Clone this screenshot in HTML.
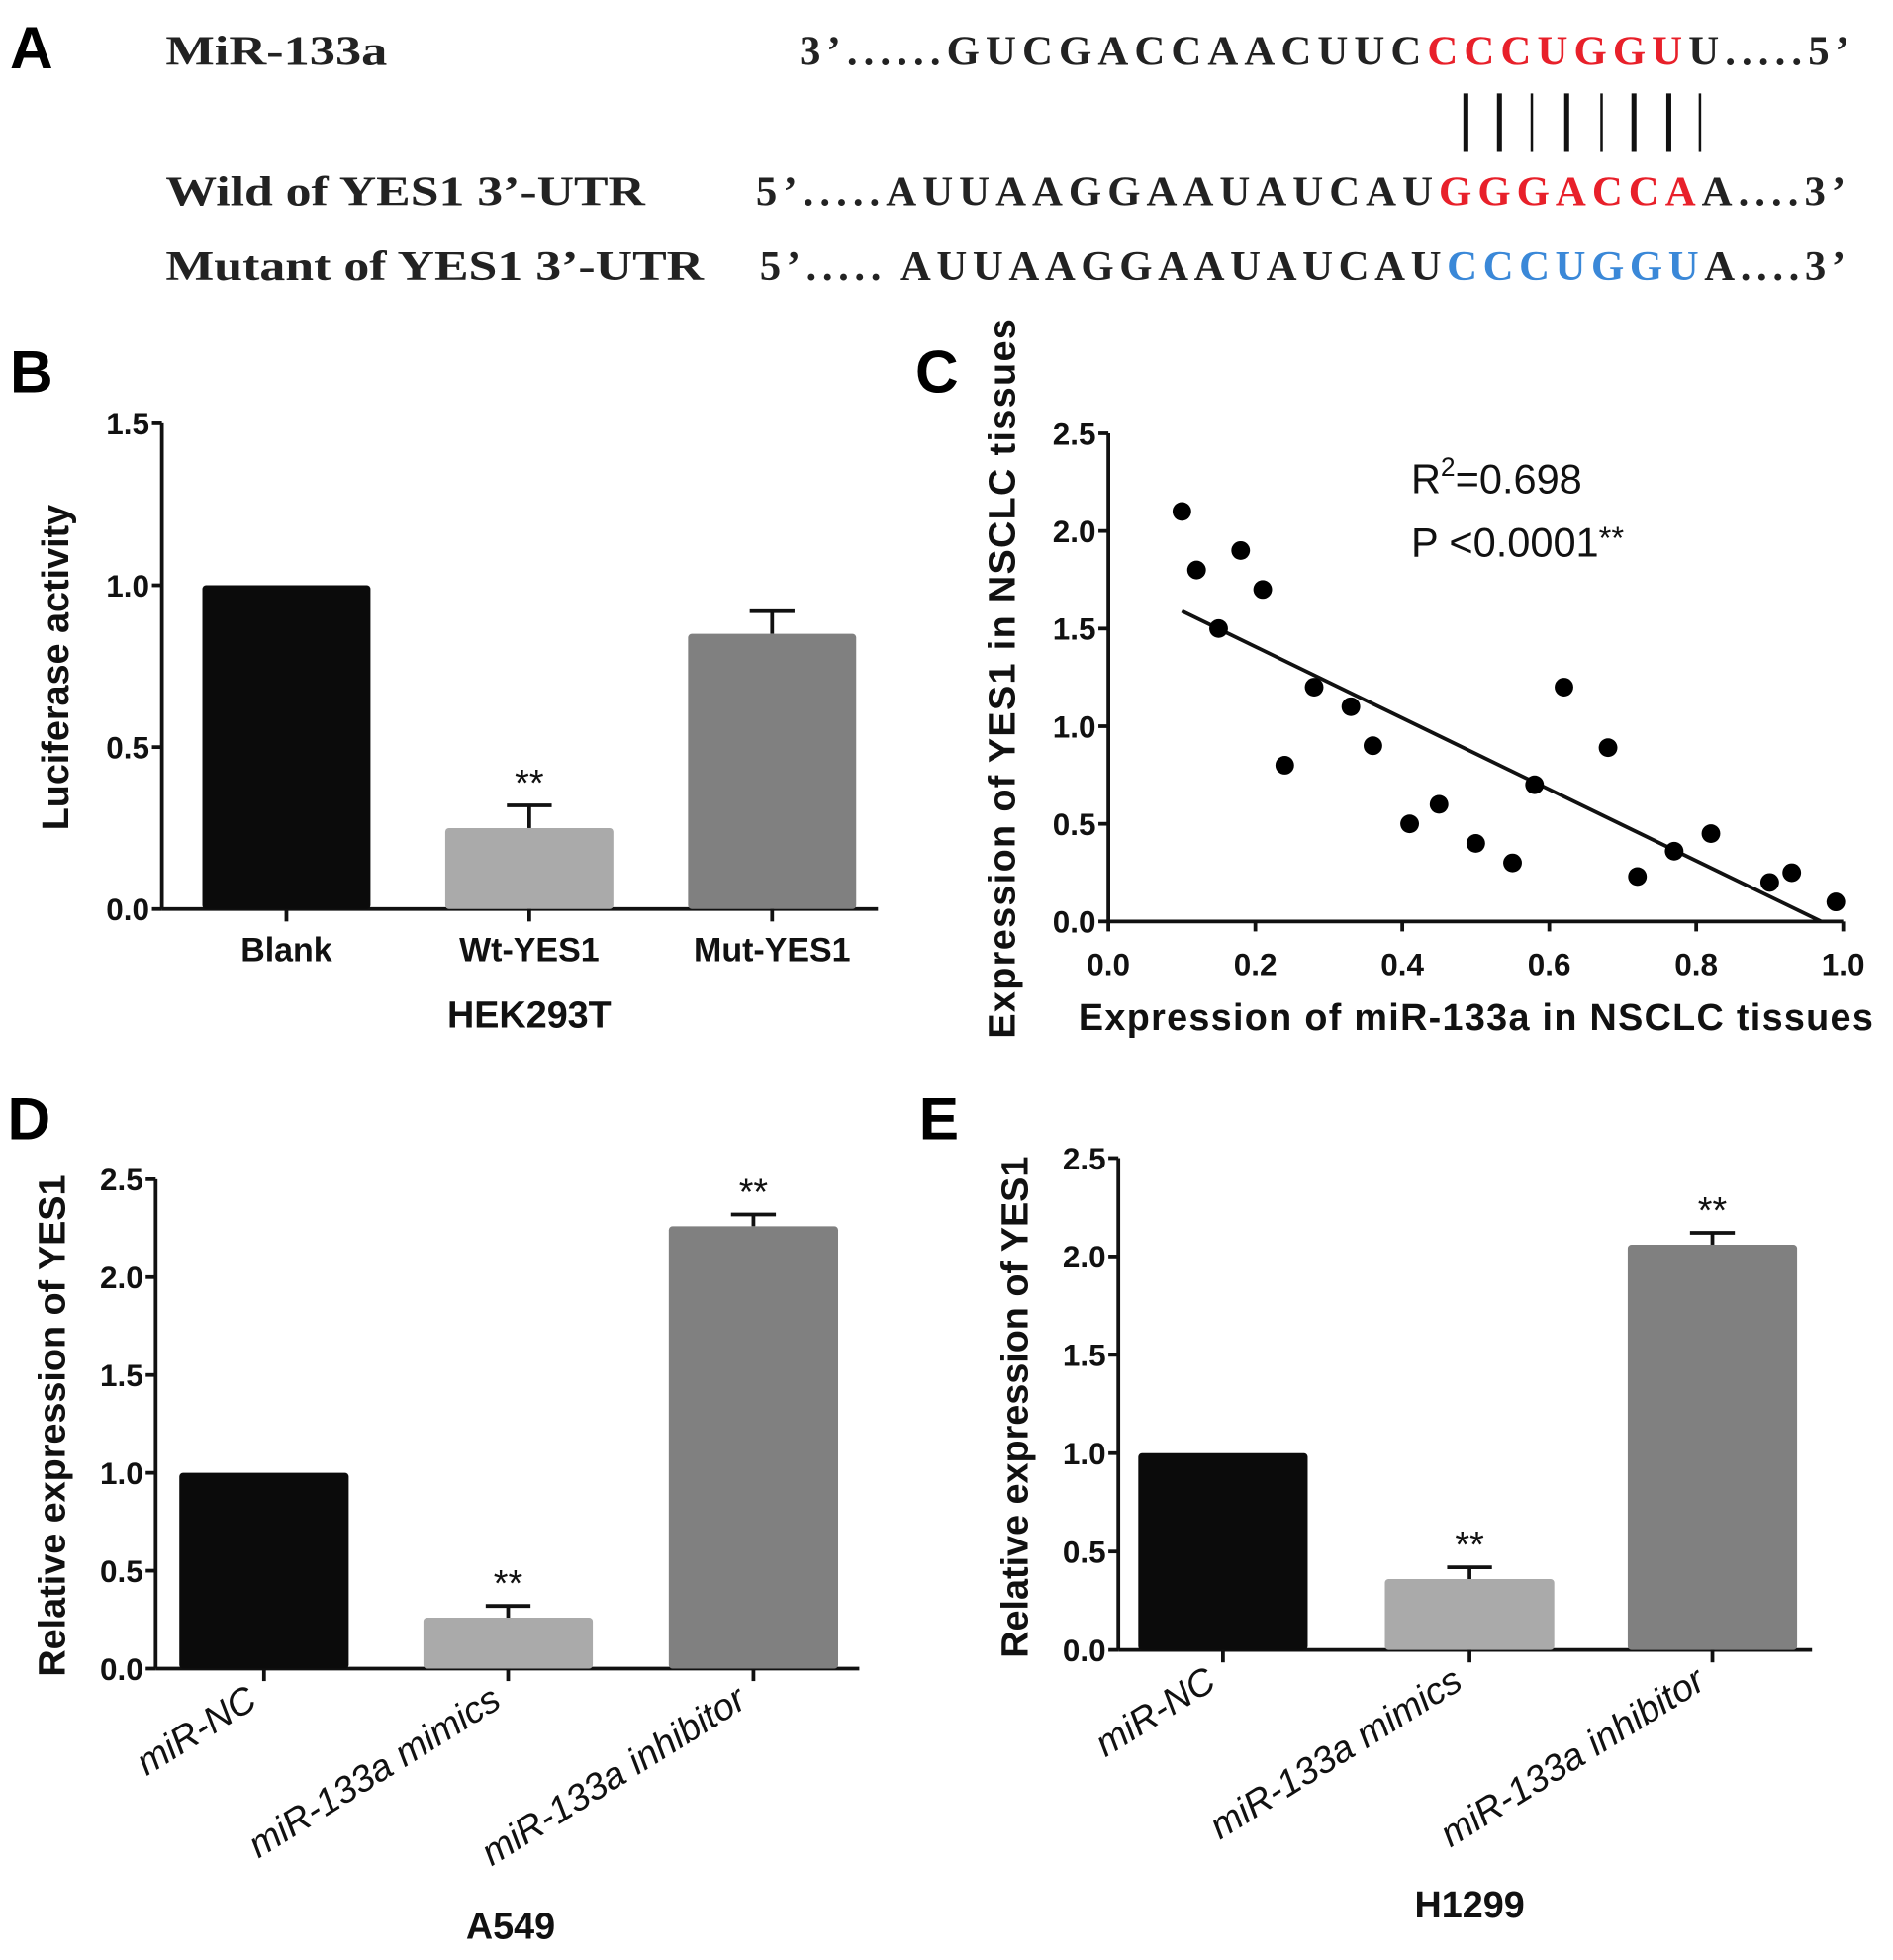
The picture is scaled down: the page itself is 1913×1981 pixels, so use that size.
<!DOCTYPE html>
<html><head><meta charset="utf-8"><style>
html,body{margin:0;padding:0;background:#fff;}
svg{display:block;}
text{font-family:"Liberation Sans",sans-serif;}
.ser{font-family:"Liberation Serif",serif;font-weight:bold;font-size:34px;fill:#222;}
.tick{font-size:25px;font-weight:bold;fill:#111;}
.ttl{font-size:30px;font-weight:bold;fill:#111;}
.pl{font-size:48px;font-weight:bold;fill:#000;}
</style></head><body>
<svg id="fig" width="1913" height="1981" viewBox="0 0 1520 1574" preserveAspectRatio="none">
<g>
<text class="pl" x="8" y="55">A</text>
<text class="ser" x="133" y="52" textLength="178" lengthAdjust="spacingAndGlyphs">MiR-133a</text>
<text class="ser" x="1485" y="52" text-anchor="end" textLength="843">3’......GUCGACCAACUUC<tspan fill="#e8202a">CCCUGGU</tspan>U.....5’</text>
<g stroke="#111" stroke-width="4">
<line x1="1177" y1="75" x2="1177" y2="122"/><line x1="1204" y1="75" x2="1204" y2="122"/><line x1="1230" y1="75" x2="1230" y2="122" stroke-width="2"/><line x1="1258" y1="75" x2="1258" y2="122"/><line x1="1286" y1="75" x2="1286" y2="122" stroke-width="2"/><line x1="1312" y1="75" x2="1312" y2="122"/><line x1="1340" y1="75" x2="1340" y2="122"/><line x1="1365" y1="75" x2="1365" y2="122" stroke-width="2"/>
</g>
<text class="ser" x="133" y="165" textLength="385" lengthAdjust="spacingAndGlyphs">Wild of YES1 3’-UTR</text>
<text class="ser" x="1482" y="165" text-anchor="end" textLength="875">5’.....AUUAAGGAAUAUCAU<tspan fill="#e8202a">GGGACCA</tspan>A....3’</text>
<text class="ser" x="133" y="225" textLength="432" lengthAdjust="spacingAndGlyphs">Mutant of YES1 3’-UTR</text>
<text class="ser" x="1482" y="225" text-anchor="end" textLength="872">5’..... AUUAAGGAAUAUCAU<tspan fill="#3a88d8">CCCUGGU</tspan>A....3’</text>
</g>
<text class="pl" x="8" y="315">B</text>
<text class="pl" x="735" y="315">C</text>
<text class="pl" x="6" y="915">D</text>
<text class="pl" x="738" y="915">E</text>
<g id="gB"></g>
<g id="gC"></g>
<g id="gD"></g>
<g id="gE"></g>
</svg>
<script>
const bCats=["Blank","Wt-YES1","Mut-YES1"];
const bVals=[1.0,0.25,0.85];
const bErr=[0,0.07,0.07];
const bSig=["","**",""];
const bTicks=["0.0","0.5","1.0","1.5"];
const dCats=["miR-NC","miR-133a mimics","miR-133a inhibitor"];
const dVals=[1.0,0.26,2.26];
const dErr=[0,0.06,0.06];
const dSig=["","**","**"];
const eVals=[1.0,0.36,2.06];
const eErr=[0,0.06,0.06];
const eSig=["","**","**"];
const yTicks25=["0.0","0.5","1.0","1.5","2.0","2.5"];
const cX=[0.10,0.12,0.15,0.18,0.21,0.24,0.28,0.33,0.36,0.41,0.45,0.50,0.55,0.58,0.62,0.68,0.72,0.77,0.82,0.90,0.93,0.99];
const cY=[2.1,1.8,1.5,1.9,1.7,0.8,1.2,1.1,0.9,0.5,0.6,0.4,0.3,0.7,1.2,0.89,0.23,0.36,0.45,0.2,0.25,0.1];
const cFitX=[0.10,0.97];
const cFitY=[1.59,0.0];
const cXTicks=["0.0","0.2","0.4","0.6","0.8","1.0"];
const colors=["#0b0b0b","#aaaaaa","#808080"];
const NS="http://www.w3.org/2000/svg";
function mk(p,tag,at,txt){const e=document.createElementNS(NS,tag);for(const k in at)e.setAttribute(k,at[k]);if(txt!==undefined)e.textContent=txt;p.appendChild(e);return e;}
function barChart(g,o){
  const y=v=>o.y0-(v/o.ymax)*(o.y0-o.y1);
  let e=mk(g,'line',{x1:o.x0,y1:o.y1,x2:o.x0,y2:o.y0,stroke:'#111','stroke-width':3});
  
  e=mk(g,'line',{x1:o.x0,y1:o.y0,x2:o.x2,y2:o.y0,stroke:'#111','stroke-width':3});
  
  o.ticks.forEach(t=>{const yy=y(parseFloat(t));mk(g,'line',{x1:o.x0-8,y1:yy,x2:o.x0,y2:yy,stroke:'#111','stroke-width':3});
    e=mk(g,'text',{x:o.x0-10,y:yy+9,'text-anchor':'end',class:'tick'},t);
    });
  const bw=o.bw;
  o.vals.forEach((v,i)=>{const cx=o.cx[i];
    if(o.err[i]>0){mk(g,'line',{x1:cx,y1:y(v+o.err[i]),x2:cx,y2:y(v),stroke:'#111','stroke-width':3});
      mk(g,'line',{x1:cx-18,y1:y(v+o.err[i]),x2:cx+18,y2:y(v+o.err[i]),stroke:'#111','stroke-width':3});}
    e=mk(g,'rect',{x:cx-bw/2,y:y(v),width:bw,height:o.y0-y(v),fill:colors[i],rx:3});
    
    if(o.sig[i]){e=mk(g,'text',{x:cx,y:y(v+o.err[i])-8,'text-anchor':'middle',style:'font-size:30px;fill:#111'},o.sig[i]);
      }
    mk(g,'line',{x1:cx,y1:o.y0,x2:cx,y2:o.y0+10,stroke:'#111','stroke-width':3});
    if(o.rot){const ax=cx-4,ay=o.y0+30;e=mk(g,'text',{x:ax,y:ay,'text-anchor':'end',class:'tick',style:'font-style:italic;font-weight:normal;font-size:30px',transform:`rotate(-32 ${ax} ${ay})`},o.cats[i]);}
    else{e=mk(g,'text',{x:cx,y:o.y0+42,'text-anchor':'middle',class:'tick',style:'font-size:27px'},o.cats[i]);}
    
  });
  e=mk(g,'text',{x:o.xt[0],y:o.xt[1],'text-anchor':'middle',class:'ttl'},o.xtitle);
  
  e=mk(g,'text',{x:o.yt[0],y:o.yt[1],'text-anchor':'middle',class:'ttl',transform:`rotate(-90 ${o.yt[0]} ${o.yt[1]})`},o.ytitle);
  
}
barChart(document.getElementById('gB'),{x0:130,x2:705,y0:730,y1:340,ymax:1.5,ticks:bTicks,vals:bVals,err:bErr,sig:bSig,cats:bCats,cx:[230,425,620],bw:135,rot:false,xtitle:"HEK293T",xt:[425,825],ytitle:"Luciferase activity",yt:[55,536]});
barChart(document.getElementById('gD'),{x0:125,x2:690,y0:1340,y1:947,ymax:2.5,ticks:yTicks25,vals:dVals,err:dErr,sig:dSig,cats:dCats,cx:[212,408,605],bw:136,rot:true,xtitle:"A549",xt:[410,1557],ytitle:"Relative expression of YES1",yt:[52,1145]});
barChart(document.getElementById('gE'),{x0:898,x2:1455,y0:1325,y1:930,ymax:2.5,ticks:yTicks25,vals:eVals,err:eErr,sig:eSig,cats:dCats,cx:[982,1180,1375],bw:136,rot:true,xtitle:"H1299",xt:[1180,1540],ytitle:"Relative expression of YES1",yt:[825,1130]});
(function(){
  const g=document.getElementById('gC');
  const x0=890,x1=1480,y0=740,y1=348;
  const X=v=>x0+v*(x1-x0),Y=v=>y0-v/2.5*(y0-y1);
  let e=mk(g,'line',{x1:x0,y1:y1,x2:x0,y2:y0,stroke:'#111','stroke-width':3});
  
  e=mk(g,'line',{x1:x0,y1:y0,x2:x1,y2:y0,stroke:'#111','stroke-width':3});
  
  yTicks25.forEach(t=>{const yy=Y(parseFloat(t));mk(g,'line',{x1:x0-8,y1:yy,x2:x0,y2:yy,stroke:'#111','stroke-width':3});
    e=mk(g,'text',{x:x0-10,y:yy+9,'text-anchor':'end',class:'tick'},t);
    });
  cXTicks.forEach(t=>{const xx=X(parseFloat(t));mk(g,'line',{x1:xx,y1:y0,x2:xx,y2:y0+8,stroke:'#111','stroke-width':3});
    e=mk(g,'text',{x:xx,y:y0+43,'text-anchor':'middle',class:'tick'},t);
    });
  e=mk(g,'line',{x1:X(cFitX[0]),y1:Y(cFitY[0]),x2:X(cFitX[1]),y2:Y(cFitY[1]),stroke:'#111','stroke-width':3});
  
  cX.forEach((v,i)=>{e=mk(g,'circle',{cx:X(v),cy:Y(cY[i]),r:7.5,fill:'#000'});
    });
  e=mk(g,'text',{x:1185,y:827,'text-anchor':'middle',class:'ttl',textLength:'638'},'Expression of miR-133a in NSCLC tissues');
  
  e=mk(g,'text',{x:815,y:545,'text-anchor':'middle',class:'ttl',textLength:'578',transform:'rotate(-90 815 545)'},'Expression of YES1 in NSCLC tissues');
  
  e=mk(g,'text',{x:1133,y:396,style:'font-size:33px;fill:#111'});
  e.innerHTML='R<tspan dy="-14" style="font-size:21px">2</tspan><tspan dy="14">=0.698</tspan>';
  
  e=mk(g,'text',{x:1133,y:447,style:'font-size:33px;fill:#111'});
  e.innerHTML='P &lt;0.0001<tspan dy="-6" style="font-size:26px">**</tspan>';
  
})();
</script>
</body></html>
